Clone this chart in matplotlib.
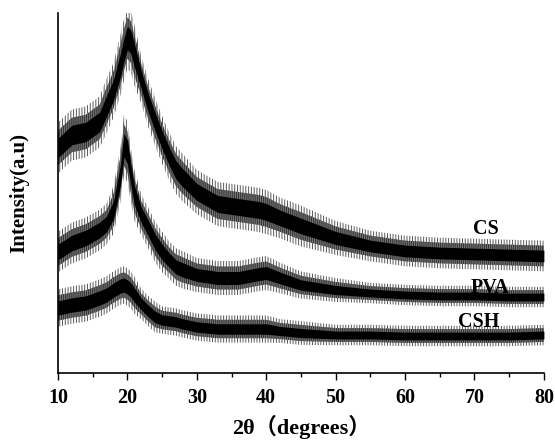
import matplotlib
matplotlib.use("Agg")
import matplotlib.pyplot as plt
import numpy as np

theta = [10, 12, 14, 16, 17, 18, 19, 19.5, 20, 20.5, 21, 22, 23, 24, 25, 26, 27, 28,
         30, 33, 36, 39, 40, 42, 45, 50, 55, 60, 65, 70, 75, 80]

# mean intensity of each (offset) pattern, a.u.
cs = [225, 238, 241, 251, 267, 283, 308, 323, 335, 331, 318, 293, 270, 251, 233, 217, 203, 195,
      181, 169, 166, 163, 161, 155, 147, 135, 127, 122, 120, 119, 118, 117]
pva = [121, 130, 135, 143, 149, 163, 198, 228, 221, 198, 178, 158, 145, 131, 121, 113, 106, 103,
       98, 95, 95, 99, 100, 95, 88, 83, 80, 78, 77, 77, 76, 76]
csh = [65, 68, 70, 75, 78, 83, 87, 88, 86, 83, 78, 69, 62, 56, 53, 52, 51, 49,
       46, 44, 44, 44, 44, 42, 40, 38, 38, 37, 37, 37, 37, 38]

# half-width of the noise band around each pattern
cs_noise = [15, 15, 15, 15, 16, 16, 18, 18, 18, 18, 18, 14, 14, 14, 14, 14, 14, 14,
            13, 13, 13, 13, 13, 12, 12, 10, 9, 9, 9, 9, 9, 9]
pva_noise = [12, 12, 12, 12, 12, 14, 16, 18, 18, 16, 15, 12, 12, 12, 12, 11, 11, 11,
             10, 10, 10, 10, 10, 9, 8, 7, 6, 6, 6, 6, 6, 6]
csh_noise = [11, 11, 11, 11, 11, 11, 11, 11, 11, 11, 11, 9, 9, 9, 8, 8, 8, 8,
             8, 8, 8, 8, 8, 7, 7, 6, 6, 6, 6, 6, 6, 6]

names = ["CS", "PVA", "CSH"]
label_pos = [(71.6, 144), (72.2, 85), (70.6, 51)]

serif = ["Liberation Serif", "Noto Sans CJK SC", "DejaVu Sans"]
plt.rcParams["hatch.linewidth"] = 0.7

fig = plt.figure(figsize=(5.55, 4.43), dpi=100)
ax = fig.add_axes([0.1045, 0.158, 0.8755, 0.8127])

t = np.array(theta)
for mean, noise in [(cs, cs_noise), (pva, pva_noise), (csh, csh_noise)]:
    m = np.array(mean)
    n = np.array(noise)
    # spikes: hatched grey fringe, dense core: black
    ax.fill_between(t, m - 1.7 * n, m + 1.7 * n, facecolor="none", edgecolor="0.35",
                    hatch="||||||", lw=0)
    ax.fill_between(t, m - 1.15 * n, m + 1.15 * n, facecolor="0.45", edgecolor="0.2",
                    hatch="||||||||", lw=0)
    ax.fill_between(t, m - 0.65 * n, m + 0.65 * n, color="black", lw=0)

for name, (x, y) in zip(names, label_pos):
    ax.text(x, y, name, family=serif, fontweight="bold", fontsize=14.5,
            ha="center", va="center")

ax.set_xlim(10, 80)
ax.set_ylim(0, 360)
ax.set_xticks(range(10, 81, 10))
ax.set_xticks(range(15, 80, 10), minor=True)
ax.set_yticks([])
ax.tick_params(axis="x", which="major", direction="out", length=5, width=1, pad=6)
ax.tick_params(axis="x", which="minor", direction="out", length=3, width=1)
for lab in ax.get_xticklabels():
    lab.set_family(serif)
    lab.set_fontweight("bold")
    lab.set_fontsize(14.5)

ax.spines["top"].set_visible(False)
ax.spines["right"].set_visible(False)
ax.spines["left"].set_linewidth(1.2)
ax.spines["bottom"].set_linewidth(1.2)

ax.set_xlabel("2θ（degrees）", family=serif, fontweight="bold", fontsize=16, labelpad=5)
ax.set_ylabel("Intensity(a.u)", family=serif, fontweight="bold", fontsize=15, labelpad=21)

fig.savefig("out.png", dpi=100)
